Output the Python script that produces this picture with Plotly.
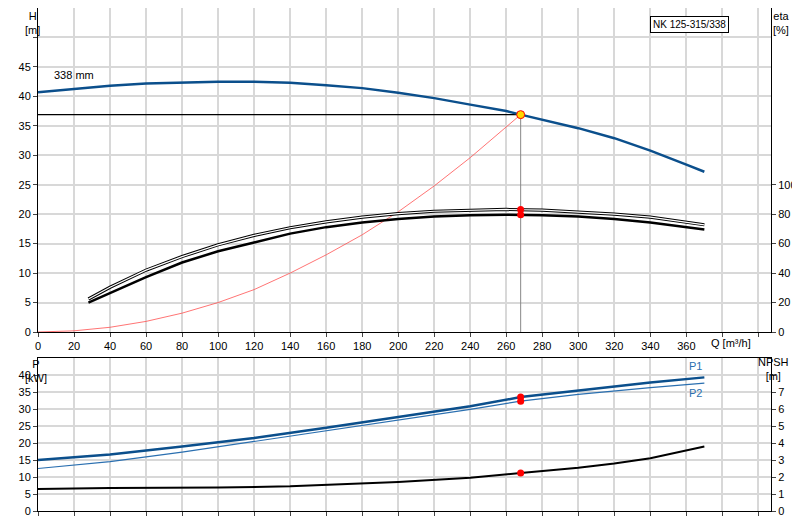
import plotly.graph_objects as go

# Head curve
q_h = [0, 20, 40, 60, 80, 100, 120, 140, 160, 180, 200, 220, 240, 260, 268, 280, 300, 320, 340, 360, 370]
h = [40.7, 41.3, 41.8, 42.2, 42.4, 42.5, 42.5, 42.3, 41.9, 41.4, 40.6, 39.7, 38.6, 37.5, 36.9, 36.0, 34.6, 32.9, 30.8, 28.4, 27.2]

# Efficiency curves (%)
q_eta = [28, 40, 60, 80, 100, 120, 140, 160, 180, 200, 220, 240, 260, 280, 300, 320, 340, 370]
eta_pump = [22.4, 30.4, 42, 51.2, 59.2, 65.6, 70.8, 74.8, 78, 80.4, 82, 82.8, 83.2, 82.8, 81.6, 80, 78, 72.8]
eta_total = [20, 26.4, 37.2, 47.2, 54.8, 60.8, 66.8, 71.2, 74.4, 76.8, 78.4, 79.2, 79.6, 79.2, 78.4, 76.8, 74.4, 69.6]

# System curve
q_sys = [0, 20, 40, 60, 80, 100, 120, 140, 160, 180, 200, 220, 240, 268]
h_sys = [0, 0.2, 0.8, 1.8, 3.2, 5.0, 7.2, 10.0, 13.1, 16.5, 20.4, 24.8, 29.6, 36.9]

# Power and NPSH
q_p = [0, 40, 80, 120, 160, 200, 240, 268, 300, 340, 370]
p1 = [15.0, 16.6, 19.0, 21.5, 24.5, 27.7, 30.8, 33.5, 35.5, 37.8, 39.3]
p2 = [12.5, 14.5, 17.3, 20.4, 23.5, 26.8, 29.9, 32.3, 34.3, 36.3, 37.6]
q_npsh = [0, 40, 100, 140, 200, 240, 268, 300, 320, 340, 370]
npsh = [1.3, 1.35, 1.38, 1.45, 1.7, 1.95, 2.24, 2.55, 2.8, 3.1, 3.8]

q_duty, h_duty = 268, 36.9
eta_duty = [83.1, 79.6]
p_duty = [33.5, 32.3]
npsh_duty = 2.24

BLUE = "#0b4f8c"
fig = go.Figure()
fig.add_trace(go.Scatter(x=q_sys, y=h_sys, mode="lines", line=dict(color="#ff5050", width=0.8)))
fig.add_trace(go.Scatter(x=[0, q_duty], y=[h_duty, h_duty], mode="lines", line=dict(color="black", width=1.2)))
fig.add_trace(go.Scatter(x=[q_duty, q_duty], y=[0, h_duty], mode="lines", line=dict(color="#888", width=1)))
fig.add_trace(go.Scatter(x=q_h, y=h, mode="lines", line=dict(color=BLUE, width=2.5)))
fig.add_trace(go.Scatter(x=q_eta, y=eta_pump, yaxis="y2", mode="lines", line=dict(color="black", width=3.2)))
fig.add_trace(go.Scatter(x=q_eta, y=eta_pump, yaxis="y2", mode="lines", line=dict(color="white", width=1.2)))
fig.add_trace(go.Scatter(x=q_eta, y=eta_total, yaxis="y2", mode="lines", line=dict(color="black", width=2.5)))
fig.add_trace(go.Scatter(x=[q_duty, q_duty], y=eta_duty, yaxis="y2", mode="markers",
                         marker=dict(color="red", size=7)))
fig.add_trace(go.Scatter(x=[q_duty], y=[h_duty], mode="markers",
                         marker=dict(color="#ffd700", size=8, line=dict(color="red", width=1))))

fig.add_trace(go.Scatter(x=q_p, y=p1, xaxis="x2", yaxis="y3", mode="lines", line=dict(color=BLUE, width=2.5)))
fig.add_trace(go.Scatter(x=q_p, y=p2, xaxis="x2", yaxis="y3", mode="lines", line=dict(color="#2a6fb0", width=1.2)))
fig.add_trace(go.Scatter(x=q_npsh, y=npsh, xaxis="x2", yaxis="y4", mode="lines", line=dict(color="black", width=2)))
fig.add_trace(go.Scatter(x=[q_duty, q_duty], y=p_duty, xaxis="x2", yaxis="y3", mode="markers",
                         marker=dict(color="red", size=7)))
fig.add_trace(go.Scatter(x=[q_duty], y=[npsh_duty], xaxis="x2", yaxis="y4", mode="markers",
                         marker=dict(color="red", size=7)))

xdom = [30 / 800, 763 / 800]
ax = dict(showline=True, linecolor="black", linewidth=1, gridcolor="#d8d8d8", gridwidth=1.5,
          ticks="outside", ticklen=4, tickfont=dict(size=11), zeroline=False, automargin=False)
q_ticks = list(range(0, 361, 20))
h_ticks = list(range(0, 51, 5))
fig.update_layout(
    width=800, height=520, showlegend=False, margin=dict(l=0, r=0, t=0, b=0, autoexpand=False),
    paper_bgcolor="white", plot_bgcolor="white",
    font=dict(family="Liberation Sans, Arial", size=11, color="black"),
    xaxis=dict(ax, domain=xdom, range=[0, 407], tickvals=q_ticks + [380, 400],
               ticktext=[str(v) for v in q_ticks] + ["", ""], anchor="y", mirror=True),
    yaxis=dict(ax, domain=[1 - 324 / 520, 1], range=[0, 55], tickvals=h_ticks,
               ticktext=[str(v) for v in h_ticks[:-1]] + [""]),
    yaxis2=dict(ax, overlaying="y", side="right", range=[0, 220], tickvals=list(range(0, 101, 20)),
                showgrid=False),
    xaxis2=dict(ax, domain=xdom, range=[0, 407], tickvals=q_ticks + [380, 400], showticklabels=False,
                anchor="y3", mirror=True),
    yaxis3=dict(ax, domain=[1 - 503 / 520, 1 - 350 / 520], range=[0, 45], tickvals=list(range(0, 41, 5)),
                anchor="x2"),
    yaxis4=dict(ax, overlaying="y3", side="right", range=[0, 9], tickvals=list(range(0, 9)),
                ticktext=[str(v) for v in range(0, 8)] + [""], showgrid=False, anchor="x2"),
)

ann = [
    dict(x=15 / 800, y=1, text="H<br>[m]", yanchor="top"),
    dict(x=783 / 800, y=1, text="eta<br>[%]", yanchor="top"),
    dict(x=15 / 800, y=1 - 348 / 520, text="P<br>[kW]", yanchor="top"),
    dict(x=783 / 800, y=1 - 346 / 520, text="NPSH<br>[m]", yanchor="top"),
    dict(x=745 / 800, y=1 - 335 / 520, text="Q [m³/h]", yanchor="middle"),
]
for a in ann:
    fig.add_annotation(xref="paper", yref="paper", showarrow=False, font=dict(size=11), **a)
fig.add_annotation(x=20, y=43.6, xref="x", yref="y", text="338 mm", showarrow=False, font=dict(size=11))
fig.add_annotation(x=370, y=40.2, xref="x2", yref="y3", text="P1", showarrow=False,
                   font=dict(size=11, color="#2a6fb0"), xanchor="right", yanchor="bottom")
fig.add_annotation(x=370, y=37.2, xref="x2", yref="y3", text="P2", showarrow=False,
                   font=dict(size=11, color="#2a6fb0"), xanchor="right", yanchor="top")
fig.add_annotation(x=721 / 800, y=1 - 8 / 520, xref="paper", yref="paper", text="NK 125-315/338",
                   showarrow=False, font=dict(size=10), bordercolor="black", borderwidth=1,
                   bgcolor="white", borderpad=2)

fig.write_html("out.html")
